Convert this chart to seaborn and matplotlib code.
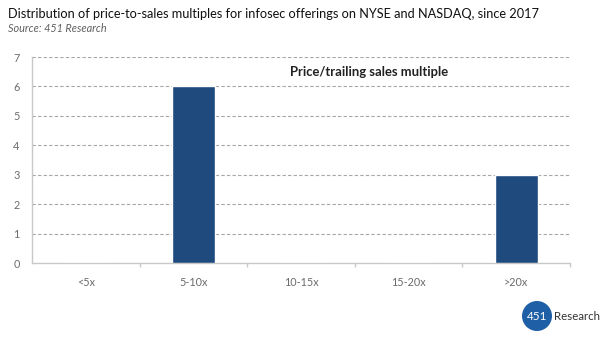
import matplotlib
matplotlib.use("Agg")
import matplotlib.pyplot as plt
import seaborn as sns
import pandas as pd
from matplotlib.patches import Ellipse
from matplotlib.ticker import FixedLocator

categories = ["<5x", "5-10x", "10-15x", "15-20x", ">20x"]
values = [0, 6, 0, 0, 3]
yticks = [0, 1, 2, 3, 4, 5, 6, 7]

sns.set_theme(style="white")
plt.rcParams['font.family'] = ['Lato', 'DejaVu Sans']

df = pd.DataFrame({"cat": categories, "val": values})

fig = plt.figure(figsize=(6, 3.4), dpi=100)
ax = fig.add_axes([32/600, 1 - 263/340, (570-32)/600, (263-57)/340])

sns.barplot(data=df, x="cat", y="val", ax=ax, color="#1f4a7e", width=0.4,
            saturation=1, zorder=3)

ax.set_ylim(0, 7)
ax.set_xlim(-0.5, 4.5)
ax.set_yticks(yticks)
ax.set_xlabel("")
ax.set_ylabel("")
for y in yticks[1:]:
    ax.axhline(y, color="#a6a6a6", lw=0.8, ls=(0, (3, 2)), zorder=1)

for s in ["top", "right"]:
    ax.spines[s].set_visible(False)
ax.spines["left"].set_color("#c8c8c8")
ax.spines["bottom"].set_color("#c8c8c8")
ax.spines["left"].set_linewidth(1.0)
ax.spines["bottom"].set_linewidth(1.0)

ax.tick_params(axis="x", which="major", length=0, labelsize=7.8, labelcolor="#6b6b6b", pad=10)
ax.tick_params(axis="y", which="major", length=4, direction="out", color="#c8c8c8",
               labelsize=7.8, labelcolor="#6b6b6b", pad=5)
ax.xaxis.set_minor_locator(FixedLocator([0.5, 1.5, 2.5, 3.5, 4.5]))
ax.tick_params(axis="x", which="minor", bottom=True, length=3, direction="out", color="#c8c8c8")

ax.text(369/600, 1 - 72/340, "Price/trailing sales multiple", transform=fig.transFigure,
        ha="center", va="center", fontsize=9.4, fontweight="bold", color="#222222")

fig.text(8/600, 1 - 14/340, "Distribution of price-to-sales multiples for infosec offerings on NYSE and NASDAQ, since 2017",
         fontsize=9.2, color="#111111", va="center", ha="left")
fig.text(8/600, 1 - 29/340, "Source: 451 Research", fontsize=7.8, color="#606060",
         style="italic", va="center", ha="left")

# logo
lx, ly = 537, 316
ell = Ellipse((lx/600, 1 - ly/340), 30/600, 30/340, transform=fig.transFigure,
              facecolor="#1f5fa6", edgecolor="none")
fig.patches.append(ell)
fig.text(lx/600, 1 - ly/340, "451", color="white", fontsize=8.5, ha="center", va="center")
fig.text(554/600, 1 - ly/340, "Research", color="#333333", fontsize=8.3, ha="left", va="center")

fig.savefig("out.png", dpi=100)
